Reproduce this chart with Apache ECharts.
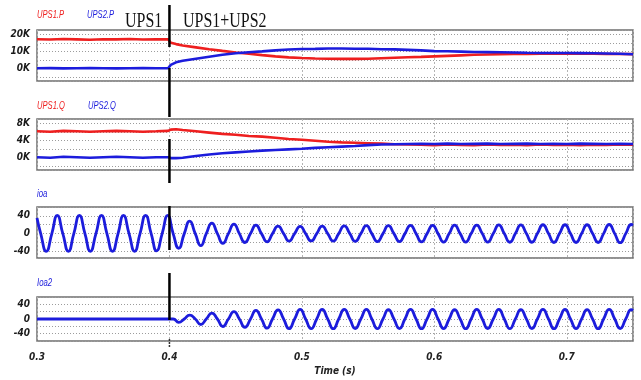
<!DOCTYPE html>
<html><head><meta charset="utf-8">
<script src="https://cdn.jsdelivr.net/npm/echarts@6/dist/echarts.min.js"></script>
<style>html,body{margin:0;padding:0;background:#fff}#c{width:641px;height:380px}</style>
</head><body><div id="c"></div>
<script>
// ---- data ----
const tPQ = [0.300,0.310,0.320,0.330,0.340,0.350,0.360,0.370,0.380,0.390,0.399,0.401,0.405,0.410,
  0.420,0.430,0.440,0.450,0.460,0.470,0.480,0.490,0.500,0.510,0.520,0.530,0.540,0.550,0.560,0.570,
  0.580,0.590,0.600,0.610,0.620,0.630,0.640,0.650,0.660,0.670,0.680,0.690,0.700,0.710,0.720,0.730,0.740,0.750];
const ups1P = [17.1,16.9,17.2,17.0,16.8,17.1,17.0,17.2,16.9,17.0,17.1, 15.0,14.2,13.4,
  12.3,11.2,10.2,9.3,8.5,7.7,7.0,6.4,6.0,5.7,5.6,5.5,5.5,5.6,5.9,6.2,6.5,6.7,7.0,7.3,
  7.6,7.9,8.1,8.3,8.4,8.4,8.5,8.5,8.6,8.5,8.5,8.4,8.4,8.3];
const ups2P = [0.0,0.1,-0.1,0.0,0.1,0.0,-0.1,0.0,0.1,0.0,0.0, 2.0,3.5,4.4,
  5.6,6.8,7.9,8.8,9.4,9.9,10.5,11.0,11.3,11.4,11.6,11.6,11.5,11.5,11.2,11.1,10.8,10.5,10.1,10.0,
  9.8,9.6,9.5,9.4,9.3,9.1,9.0,9.0,9.0,8.9,8.8,8.7,8.5,8.2];
const ups1Q = [6.1,6.0,6.2,6.1,6.0,6.1,6.2,6.1,6.0,6.1,6.2, 6.5,6.6,6.4,
  6.1,5.8,5.5,5.3,5.0,4.85,4.6,4.3,4.1,3.9,3.65,3.5,3.4,3.3,3.2,3.05,3.0,2.95,2.85,3.0,
  2.9,2.85,3.0,2.9,2.95,2.85,3.0,2.9,2.95,2.85,2.95,2.9,3.0,2.95];
const ups2Q = [0.0,-0.1,0.1,0.0,-0.1,0.0,0.1,0.0,-0.1,0.0,0.0, -0.2,-0.2,-0.1,
  0.3,0.65,0.95,1.15,1.35,1.55,1.7,1.85,2.0,2.2,2.35,2.5,2.65,2.85,3.0,3.05,3.1,3.15,3.1,3.2,
  3.1,3.15,3.2,3.1,3.15,3.2,3.1,3.15,3.1,3.2,3.15,3.1,3.15,3.1];
// current waveforms: peaks, troughs and zero crossings
const tW = [0.3000,
  0.3028,0.3070,0.3112,0.3153,0.3195,0.3237,0.3278,0.3320,0.3362,0.3403,0.3445,0.3487,0.3528,0.3570,0.3612,0.3653,
  0.3695,0.3737,0.3778,0.3820,0.3862,0.3903,0.3945,0.3987,0.4028,0.4070,0.4112,0.4153,0.4195,0.4237,0.4278,0.4320,
  0.4362,0.4403,0.4445,0.4487,0.4528,0.4570,0.4612,0.4653,0.4695,0.4737,0.4778,0.4820,0.4862,0.4903,0.4945,0.4987,
  0.5028,0.5070,0.5112,0.5153,0.5195,0.5237,0.5278,0.5320,0.5362,0.5403,0.5445,0.5487,0.5528,0.5570,0.5612,0.5653,
  0.5695,0.5737,0.5778,0.5820,0.5862,0.5903,0.5945,0.5987,0.6028,0.6070,0.6112,0.6153,0.6195,0.6237,0.6278,0.6320,
  0.6362,0.6403,0.6445,0.6487,0.6528,0.6570,0.6612,0.6653,0.6695,0.6737,0.6778,0.6820,0.6862,0.6903,0.6945,0.6987,
  0.7028,0.7070,0.7112,0.7153,0.7195,0.7237,0.7278,0.7320,0.7362,0.7403,0.7445,0.7487,
  0.7500];
const ioa = [35,
  0,-40,0,41, 0,-40,0,41, 0,-40,0,41, 0,-40,0,41, 0,-40,0,41, 0,-39,0,41,
  0,-33,0,28, 0,-27,0,23.5, 0,-22,0,21.5, 0,-20,0,19, 0,-18.5,0,17, 0,-17,0,16.5,
  0,-16.5,0,17, 0,-17,0,17.5, 0,-17.5,0,18, 0,-18,0,18, 0,-18,0,18.5, 0,-18.5,0,18.5,
  0,-19,0,19, 0,-19,0,19, 0,-19,0,19.5, 0,-19.5,0,19.5, 0,-19.5,0,20, 0,-20,0,20,
  0,-20,0,20, 0,-20,0,20.5, 0,-20.5,0,20.5,
  19];
const ioa2 = [0,
  0,0,0,0, 0,0,0,0, 0,0,0,0, 0,0,0,0, 0,0,0,0, 0,0,0,0,
  0,-9,0,10.5, 0,-15,0,16, 0,-20.5,0,20, 0,-22.5,0,23.5, 0,-25,0,25, 0,-26.5,0,26,
  0,-26.5,0,26, 0,-26.5,0,26, 0,-26,0,26, 0,-26.5,0,25.5, 0,-26,0,26, 0,-26.5,0,26,
  0,-26,0,25.5, 0,-26.5,0,26, 0,-26,0,26, 0,-26.5,0,25.5, 0,-26,0,26, 0,-26.5,0,26,
  0,-26,0,25.5, 0,-26.5,0,26, 0,-26,0,25.5,
  23];
const xTickLabels = ['0.3','0.4','0.5','0.6','0.7'];
const switchTime = 0.4;
const seriesNames = ['UPS1.P','UPS2.P','UPS1.Q','UPS2.Q','ioa','Ioa2'];

// ---- chart ----
const RED = '#ee1f1f', BLUE = '#1c1cdc';
const lblFont = "'Liberation Sans Narrow','Arial Narrow','DejaVu Sans Condensed','Liberation Sans',sans-serif";
const pair = (t, v) => t.map((x, i) => [x, v[i]]);
const gridBox = [[30,51],[119,51],[207,51],[297,44]];
const grids = gridBox.map(b => ({left:37, right:8, top:b[0], height:b[1], show:true,
  borderColor:'#6f6f6f', borderWidth:1.5, backgroundColor:'transparent', containLabel:false, outerBoundsMode:'none'}));
const xAxes = grids.map((g, i) => ({type:'value', gridIndex:i, min:0.3, max:0.75, interval:0.1,
  axisLine:{show:false}, axisTick:{show:false},
  axisLabel:{show:i===3, margin:11, fontSize:10, fontStyle:'italic', fontWeight:'bold', color:'#222', fontFamily:lblFont,
    formatter: v => { const s = v.toFixed(1); return xTickLabels.indexOf(s) >= 0 && Math.abs(v-0.75)>1e-6 ? s : ''; }},
  splitLine:{show:true, lineStyle:{color:'#b4b4b4', type:[2,2], width:1}},
  name: i===3 ? 'Time (s)' : '', nameLocation:'middle', nameGap:25,
  nameTextStyle:{fontSize:10, fontStyle:'italic', fontWeight:'bold', color:'#222', fontFamily:lblFont}
}));
function yAx(i, min, max, show, fmt) {
  return {type:'value', gridIndex:i, min, max,
    axisLine:{show:false}, axisTick:{show:false},
    axisLabel:{margin:7, fontSize:10, fontStyle:'italic', fontWeight:'bold', color:'#1a1a1a', fontFamily:lblFont,
      formatter: v => show.some(s => Math.abs(s - v) < 1e-6) ? fmt(v) : ''},
    splitLine:{show:true, lineStyle:{color:'#9c9c9c', type:[1,2], width:1}}};
}
const yAxes = [
  yAx(0, -7.5, 22.5, [0,10,20], v => Math.round(v) + 'K'),
  yAx(1, -3, 9, [0,4,8], v => Math.round(v) + 'K'),
  yAx(2, -55, 60, [-40,0,40], v => String(Math.round(v))),
  yAx(3, -60, 60, [-40,0,40], v => String(Math.round(v)))
];
const line = (name, i, data, color, smooth, w) => ({name, type:'line', xAxisIndex:i, yAxisIndex:i, data,
  showSymbol:false, smooth: smooth || false, lineStyle:{color, width:w || 2.6}, itemStyle:{color}, animation:false});
const series = [
  line(seriesNames[0], 0, pair(tPQ, ups1P), RED),
  line(seriesNames[1], 0, pair(tPQ, ups2P), BLUE),
  line(seriesNames[2], 1, pair(tPQ, ups1Q), RED),
  line(seriesNames[3], 1, pair(tPQ, ups2Q), BLUE),
  line(seriesNames[4], 2, pair(tW, ioa), BLUE, 0.55, 2.8),
  line(seriesNames[5], 3, pair(tW, ioa2), BLUE, 0.55, 2.8)
];
const chart = echarts.init(document.getElementById('c'), null, {renderer:'canvas'});
chart.setOption({backgroundColor:'#fff', animation:false, grid:grids, xAxis:xAxes, yAxis:yAxes, series});

// annotations
const bx = chart.convertToPixel({xAxisIndex:0}, switchTime);
const segs = [[5,47],[68,117],[139,183],[206,250],[273,320]];
const sansI = "italic 10px 'Liberation Sans', Arial, sans-serif";
const txt = (text, x, y, fill, font, sx) => ({type:'text', x, y, scaleX:sx, z:100,
  style:{text, fill, font, textAlign:'left', textVerticalAlign:'middle', align:'left', verticalAlign:'middle'}});
const graphic = segs.map(s => ({type:'line', z:100, shape:{x1:bx, y1:s[0], x2:bx, y2:s[1]}, style:{stroke:'#000', lineWidth:2.5}}));
graphic.push({type:'line', z:100, shape:{x1:bx, y1:339, x2:bx, y2:347}, style:{stroke:'#333', lineWidth:1.5, lineDash:[2,1]}});
graphic.push(
  txt('UPS1', 125, 21, '#111', "21px 'Liberation Serif', 'Times New Roman', serif", 0.76),
  txt('UPS1+UPS2', 183, 21, '#111', "21px 'Liberation Serif', 'Times New Roman', serif", 0.76),
  txt(seriesNames[0], 37, 15, RED, sansI, 0.76),
  txt(seriesNames[1], 87, 15, BLUE, sansI, 0.76),
  txt(seriesNames[2], 37, 106, RED, sansI, 0.76),
  txt(seriesNames[3], 88, 106, BLUE, sansI, 0.76),
  txt(seriesNames[4], 37, 194, BLUE, sansI, 0.78),
  txt(seriesNames[5], 37, 283, BLUE, sansI, 0.78)
);
chart.setOption({graphic});
</script></body></html>
